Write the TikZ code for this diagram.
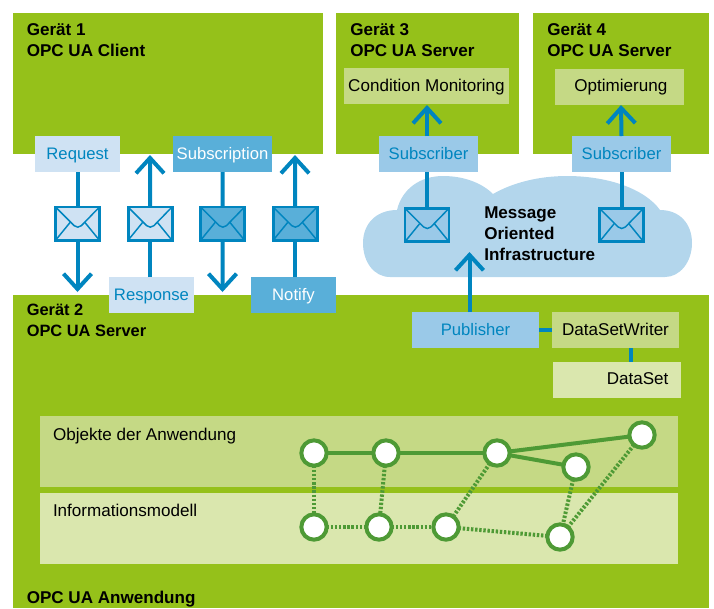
\documentclass[tikz,border=0pt]{standalone}
\usepackage{fontspec}
\setmainfont{Liberation Sans}
\usepackage{tikz}
\usetikzlibrary{arrows.meta,positioning}
\definecolor{Leaf}{HTML}{95C11A}
\definecolor{LeafMid}{HTML}{C5D985}
\definecolor{LeafPale}{HTML}{DAE7AE}
\definecolor{Ink}{HTML}{0085BF}
\definecolor{SkyPale}{HTML}{CFE2F3}
\definecolor{SkyMid}{HTML}{59AFD9}
\definecolor{SkySub}{HTML}{9AC9E8}
\definecolor{Cloud}{HTML}{B3D6EC}
\definecolor{Graph}{HTML}{4E9A35}
\tikzstyle{Title} = [font=\fontsize{12.8pt}{15.75pt}\selectfont\bfseries, align=left, anchor=north west, inner sep=0pt]
\tikzstyle{Block} = [rectangle, minimum height=27pt, text height=10.2pt, text depth=2pt, inner sep=0pt, outer sep=0pt, font=\fontsize{12.8pt}{15pt}\selectfont]
\tikzstyle{Label} = [Block, text=Ink, font=\fontsize{12.5pt}{15pt}\selectfont]
\tikzstyle{Envelope} = [rectangle, draw=Ink, line width=2.2pt, minimum width=33pt, minimum height=25pt, outer sep=0pt,
  path picture={
    \draw[Ink, line width=1.1pt] (path picture bounding box.north west) -- ++(14pt,-14pt)
      to[out=-45, in=225] ++(5.4pt,0pt) -- (path picture bounding box.north east);
    \draw[Ink, line width=1.1pt] (path picture bounding box.south west) -- ++(11pt,13.5pt);
    \draw[Ink, line width=1.1pt] (path picture bounding box.south east) -- ++(-11pt,13.5pt);
  }]
\tikzstyle{Wire} = [draw=Ink, line width=3pt]
\tikzstyle{Flow} = [Wire, -{Straight Barb[length=11.5pt,width=21pt]}]
\tikzstyle{Vertex} = [circle, draw=Graph, fill=white, line width=3pt, minimum size=19pt, inner sep=0pt, outer sep=0pt]
\tikzstyle{Solid} = [draw=Graph, line width=3pt]
\tikzstyle{Dots} = [draw=Graph, line width=3pt, dash pattern=on 1.8pt off 1.3pt]
\begin{document}
\begin{tikzpicture}[x=.75pt, y=-.75pt]
    \useasboundingbox (0,0) rectangle (714,608);
    % devices
    \fill[Leaf] (13,13) rectangle (323,154);
    \fill[Leaf] (336,13) rectangle (519,154);
    \fill[Leaf] (533,13) rectangle (709,154);
    \fill[Leaf] (13,295) rectangle (709,608);
    \node[Title] (dev1) at (26.5,23) {Gerät 1\\OPC UA Client};
    \node[Title] (dev3) at (350,23) {Gerät 3\\OPC UA Server};
    \node[Title] (dev4) at (547,23) {Gerät 4\\OPC UA Server};
    \node[Title, font=\fontsize{12.3pt}{15.75pt}\selectfont\bfseries] (dev2) at (26.5,304) {Gerät 2\\OPC UA Server};
    \node[Title] (app) at (26.5,591) {OPC UA Anwendung};
    % cloud
    \fill[Cloud] (390,277) .. controls (374,277) and (363,262) .. (363,243)
      .. controls (363,224) and (376,210) .. (397,210)
      .. controls (402,189) and (420,176) .. (443,176)
      .. controls (464,176) and (482,183) .. (493,194)
      .. controls (512,183) and (538,176) .. (567,176)
      .. controls (608,176) and (645,189) .. (660,210)
      .. controls (680,210) and (692,224) .. (692,243)
      .. controls (692,262) and (680,277) .. (665,277) -- cycle;
    \node[Title] (moi) at (484,206) {Message\\Oriented\\Infrastructure};
    % client and server messages
    \node[Label, fill=SkyPale, minimum width=63.75pt] (request) at (77.5,154) {Request};
    \node[Label, fill=SkyMid, text=white, minimum width=74.25pt] (subscription) at (222.5,154) {Subscription};
    \node[Label, fill=SkyPale, minimum width=63.75pt] (response) at (151.5,295) {Response};
    \node[Label, fill=SkyMid, text=white, minimum width=63.75pt] (notify) at (293.5,295) {Notify};
    \node[Envelope, fill=SkyPale] (mail1) [below=26.25pt of request] {};
    \node[Envelope, fill=SkyPale] (mail2) [right=21.4pt of mail1] {};
    \node[Envelope, fill=SkyMid]  (mail3) [right=21.4pt of mail2] {};
    \node[Envelope, fill=SkyMid]  (mail4) [right=21.4pt of mail3] {};
    \coordinate (requestEnd) at (77.5,292);
    \coordinate (responseEnd) at (150,155);
    \coordinate (subscriptionEnd) at (222.5,292);
    \coordinate (notifyEnd) at (295,155);
    \draw[Wire] (request) -- (mail1);
    \draw[Flow] (mail1) -- (requestEnd);
    \draw[Wire] (mail2 |- response.north) -- (mail2);
    \draw[Flow] (mail2) -- (responseEnd);
    \draw[Wire] (subscription) -- (mail3);
    \draw[Flow] (mail3) -- (subscriptionEnd);
    \draw[Wire] (mail4 |- notify.north) -- (mail4);
    \draw[Flow] (mail4) -- (notifyEnd);
    % subscribers
    \node[Block, fill=LeafMid, minimum width=123.75pt] (condition) at (426.5,86) {Condition Monitoring};
    \node[Block, fill=LeafMid, minimum width=96.75pt] (optimize) at (619.5,86.5) {\hspace*{2pt}Optimierung};
    \node[Label, fill=SkySub, minimum width=74.25pt] (sub3) at (428.5,154) {Subscriber};
    \node[Label, fill=SkySub, minimum width=74.25pt] (sub4) at (621.5,154) {Subscriber};
    \node[Envelope, fill=SkySub] (mail5) at (427,225) {};
    \node[Envelope, fill=SkySub] (mail6) at (621.5,225) {};
    \coordinate (sub3End) at (427,105);
    \coordinate (sub4End) at (621,105);
    \draw[Wire] (mail5) -- (mail5 |- sub3.south);
    \draw[Flow] (mail5 |- sub3.north) -- (sub3End);
    \draw[Wire] (mail6) -- (mail6 |- sub4.south);
    \draw[Flow] (mail6 |- sub4.north) -- (sub4End);
    % publisher side
    \node[Label, fill=SkySub, minimum width=95.25pt] (publisher) at (475.5,330) {Publisher};
    \node[Block, fill=LeafMid, minimum width=95.25pt] (writer) at (615.5,330) {DataSetWriter};
    \node[Block, fill=LeafPale, minimum width=96pt, text width=77.2pt, align=right] (dataset) at (617,379.5) {DataSet};
    \coordinate (publisherEnd) at (469.5,252);
    \coordinate (datasetTap) at (631,355);
    \draw[Flow] (publisherEnd |- publisher.north) -- (publisherEnd);
    \draw[Wire] (publisher) -- (writer);
    \draw[Wire] (datasetTap |- writer.south) -- (datasetTap |- dataset.north);
    % application
    \fill[LeafMid] (40,416) rectangle (678,487);
    \fill[LeafPale] (40,493) rectangle (678,564);
    \node[Block, anchor=west, minimum height=0pt] (objects) at (53,435) {Objekte der Anwendung};
    \node[Block, anchor=west, minimum height=0pt] (model) at (53,511) {Informationsmodell};
    \node[Vertex] (a1) at (314,453) {};
    \node[Vertex] (a2) at (386,453) {};
    \node[Vertex] (a3) at (497,453) {};
    \node[Vertex] (a4) at (576,467) {};
    \node[Vertex] (a5) at (642,435) {};
    \node[Vertex] (b1) at (314,527) {};
    \node[Vertex] (b2) at (379,527) {};
    \node[Vertex] (b3) at (446,527) {};
    \node[Vertex] (b4) at (560,537) {};
    \draw[Solid] (a1) -- (a2);
    \draw[Solid] (a2) -- (a3);
    \draw[Solid] (a3) -- (a4);
    \draw[Solid] (a3) -- (a5);
    \draw[Dots] (a1) -- (b1);
    \draw[Dots] (a2) -- (b2);
    \draw[Dots] (a3) -- (b3);
    \draw[Dots] (a4) -- (b4);
    \draw[Dots] (a5) -- (b4);
    \draw[Dots] (b1) -- (b2);
    \draw[Dots] (b2) -- (b3);
    \draw[Dots] (b3) -- (b4);
\end{tikzpicture}
\end{document}
